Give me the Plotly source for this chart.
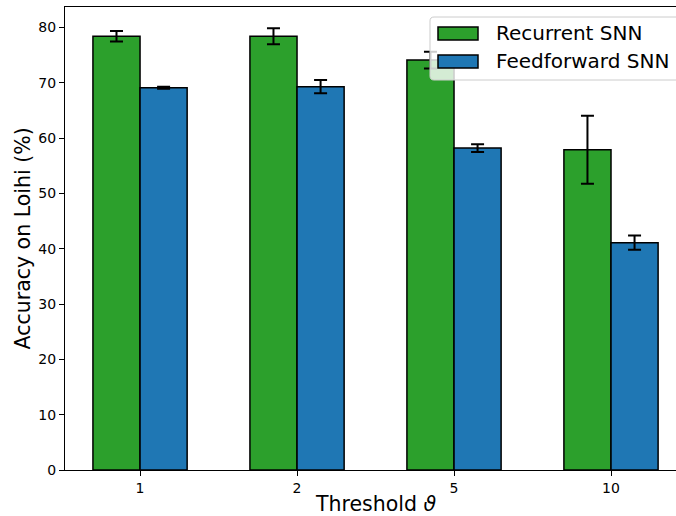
import plotly.graph_objects as go

thresholds = ["1", "2", "5", "10"]
recurrent = [78.4, 78.4, 74.1, 57.9]
recurrent_err = [0.95, 1.45, 1.5, 6.15]
feedforward = [69.1, 69.3, 58.2, 41.1]
feedforward_err = [0.2, 1.2, 0.7, 1.3]
series_names = ["Recurrent SNN", "Feedforward SNN"]
colors = ["#2ca02c", "#1f77b4"]

W, H = 676, 516
L, R, T, B = 65, 0, 7, 46
pw, ph = W - L - R, H - T - B

def px_x(px):
    return (px - L) / pw

def px_y(py):
    return (H - B - py) / ph

pos = list(range(len(thresholds)))
fig = go.Figure()
for vals, errs, name, col, off in [
    (recurrent, recurrent_err, series_names[0], colors[0], -0.3),
    (feedforward, feedforward_err, series_names[1], colors[1], 0.0),
]:
    fig.add_trace(go.Bar(
        x=pos, y=vals, width=0.3, offset=off, name=name,
        marker=dict(color=col, line=dict(color="black", width=1.5)),
        error_y=dict(type="data", array=errs, visible=True, color="black",
                     thickness=2, width=6.5),
        showlegend=False,
    ))

# manual matplotlib-style legend
def rounded_rect(x0, y0, x1, y1, r):
    def P(x, y):
        return f"{px_x(x):.5f},{px_y(y):.5f}"
    return (f"M {P(x0 + r, y0)} L {P(x1 - r, y0)} Q {P(x1, y0)} {P(x1, y0 + r)} "
            f"L {P(x1, y1 - r)} Q {P(x1, y1)} {P(x1 - r, y1)} "
            f"L {P(x0 + r, y1)} Q {P(x0, y1)} {P(x0, y1 - r)} "
            f"L {P(x0, y0 + r)} Q {P(x0, y0)} {P(x0 + r, y0)} Z")

shapes = [dict(type="path", xref="paper", yref="paper",
               path=rounded_rect(430, 17, 684, 80, 4),
               fillcolor="rgba(255,255,255,0.8)",
               line=dict(color="#cccccc", width=1))]
annotations = []
for i, (name, col) in enumerate(zip(series_names, colors)):
    ytop = 27 + i * 28
    shapes.append(dict(type="rect", xref="paper", yref="paper",
                       x0=px_x(438), x1=px_x(478), y0=px_y(ytop), y1=px_y(ytop + 13),
                       fillcolor=col, line=dict(color="black", width=1.5)))
    annotations.append(dict(text=name, xref="paper", yref="paper",
                            x=px_x(494), y=px_y(ytop + 6.5), xanchor="left",
                            yanchor="middle", showarrow=False,
                            font=dict(size=20, color="black", family="DejaVu Sans")))

annotations.append(dict(text="Threshold <i>ϑ</i>", xref="paper", yref="paper",
                        x=px_x(376), y=px_y(504), xanchor="center", yanchor="middle",
                        showarrow=False, font=dict(size=20.5, color="black", family="DejaVu Sans")))
annotations.append(dict(text="Accuracy on Loihi (%)", xref="paper", yref="paper",
                        x=px_x(22), y=0.5, xanchor="center", yanchor="middle",
                        textangle=-90, showarrow=False,
                        font=dict(size=20.5, color="black", family="DejaVu Sans")))

fig.update_layout(
    width=W, height=H,
    margin=dict(l=L, r=R, t=T, b=B, pad=0),
    paper_bgcolor="white", plot_bgcolor="white",
    font=dict(family="DejaVu Sans", size=14, color="black"),
    shapes=shapes, annotations=annotations,
    xaxis=dict(range=[-0.478, 3.414], tickvals=pos, ticktext=thresholds,
               showline=True, linecolor="black", linewidth=1.3, mirror=True,
               ticks="outside", ticklen=5, tickwidth=1, tickcolor="black",
               showgrid=False, zeroline=False, tickfont=dict(size=14)),
    yaxis=dict(range=[0, 83.7], tick0=0, dtick=10,
               showline=True, linecolor="black", linewidth=1.3,
               ticks="outside", ticklen=5, tickwidth=1, tickcolor="black",
               showgrid=False, zeroline=False, tickfont=dict(size=14)),
)

fig.write_html("out.html", config={"displayModeBar": False},
               post_script="document.body.style.margin='0';document.body.style.padding='0';")
